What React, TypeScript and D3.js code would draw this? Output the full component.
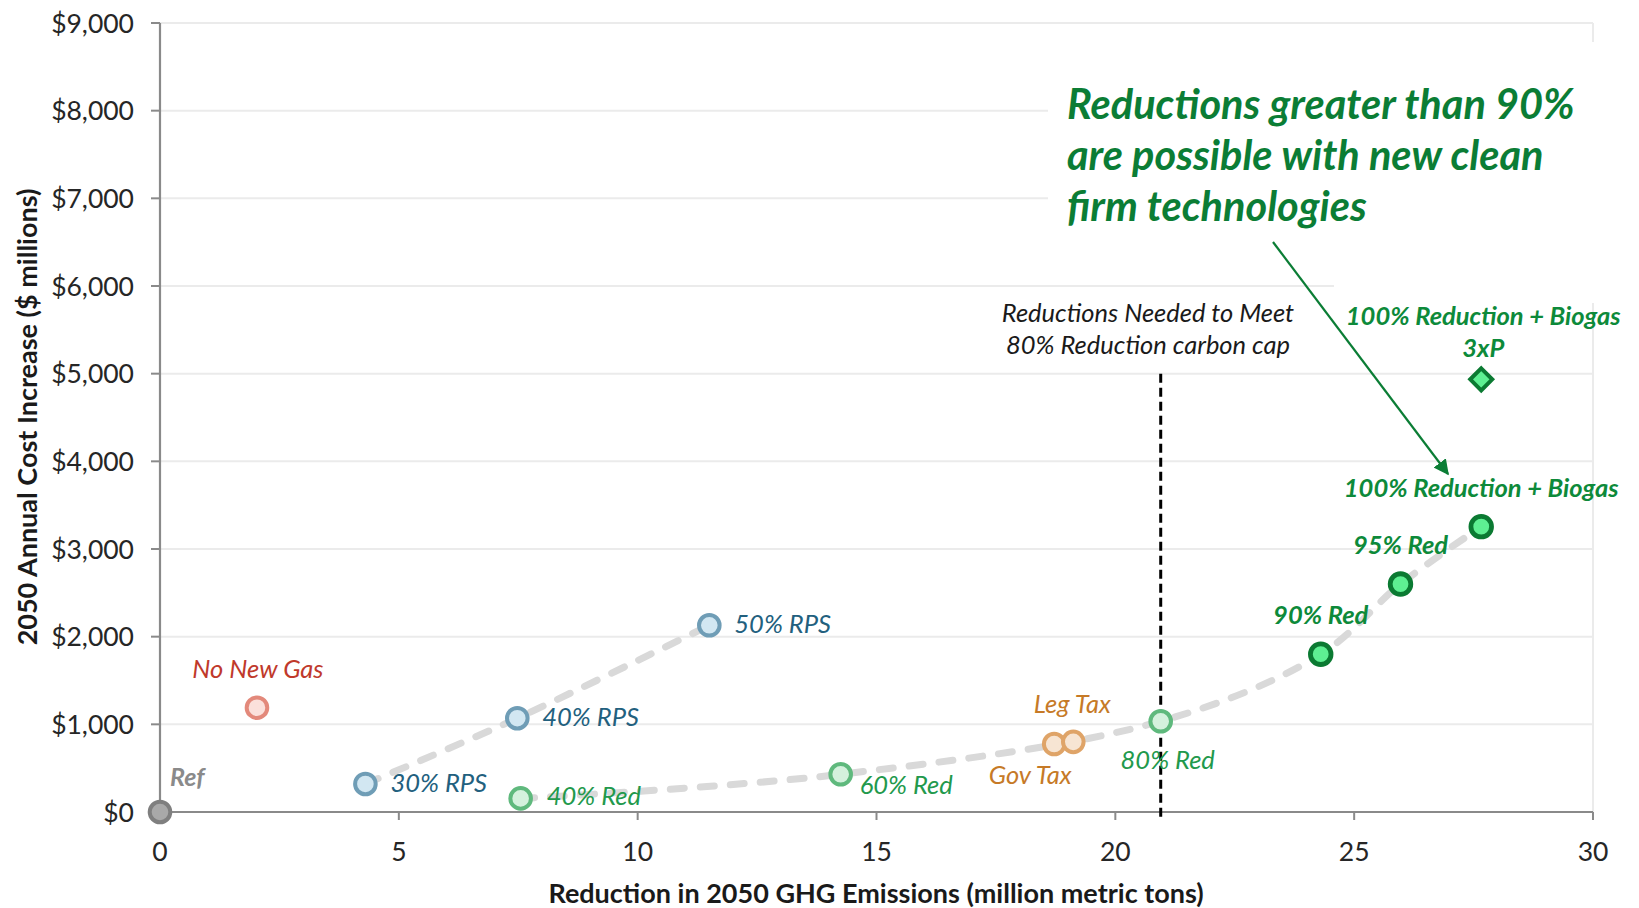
import React, { useEffect } from "react";
import * as d3 from "d3";

// Emission reduction (million metric tons) vs 2050 annual cost increase ($ millions)
const rpsLabels = ["30% RPS", "40% RPS", "50% RPS"];
const rpsReduction = [4.3, 7.48, 11.5];
const rpsCost = [320, 1070, 2130];

const redLabels = ["40% Red", "60% Red", "80% Red"];
const redReduction = [7.55, 14.25, 20.95];
const redCost = [155, 430, 1035];

const deepLabels = ["90% Red", "95% Red", "100% Reduction + Biogas"];
const deepReduction = [24.3, 25.97, 27.66];
const deepCost = [1800, 2600, 3255];

const taxLabels = ["Gov Tax", "Leg Tax"];
const taxReduction = [18.72, 19.12];
const taxCost = [775, 800];

const refReduction = 0;
const refCost = 0;
const noGasReduction = 2.03;
const noGasCost = 1190;
const biogas3xPReduction = 27.66;
const biogas3xPCost = 4935;

const capReduction = 20.95;
const capLineTop = 5000;

const xTicks = [0, 5, 10, 15, 20, 25, 30];
const yTicks = [0, 1000, 2000, 3000, 4000, 5000, 6000, 7000, 8000, 9000];

const FONT = "Lato, 'Open Sans', sans-serif";

const W = 1639;
const H = 908;

export default function App() {
  useEffect(() => {
    document.body.style.margin = "0";
  }, []);

  const x = d3.scaleLinear().domain([0, 30]).range([160, 1593]);
  const y = d3.scaleLinear().domain([0, 9000]).range([812, 23]);

  const curve = d3
    .line<[number, number]>()
    .x((d) => x(d[0]))
    .y((d) => y(d[1]))
    .curve(d3.curveCatmullRom.alpha(0.5));

  const rpsPts: [number, number][] = rpsReduction.map((v, i) => [v, rpsCost[i]]);
  const redPts: [number, number][] = [
    ...redReduction.map((v, i) => [v, redCost[i]] as [number, number]),
    ...deepReduction.map((v, i) => [v, deepCost[i]] as [number, number]),
  ];

  const fmt = (v: number) => "$" + d3.format(",")(v);

  const gridColor = "#ebebeb";
  const axisColor = "#8a8a8a";

  const rpsText = "#22607e";
  const lightGreenText = "#22994c";
  const darkGreenText = "#0d8a3a";
  const taxText = "#c67a27";

  const labelSize = 25.5;
  const deepSize = 25.5;

  const circle = (cx: number, cy: number, stroke: string, fill: string, sw = 4, r = 10.3, key?: string) => (
    <circle key={key} cx={cx} cy={cy} r={r} fill={fill} stroke={stroke} strokeWidth={sw} />
  );

  const dx = x(biogas3xPReduction);
  const dy = y(biogas3xPCost);
  const dr = 11;

  return (
    <svg width={W} height={H} style={{ display: "block", background: "#fff" }} fontFamily={FONT}>
      <defs>
        <marker id="arrowHead" viewBox="0 0 10 10" refX="9" refY="5" markerWidth="7" markerHeight="7" orient="auto" markerUnits="strokeWidth">
          <path d="M0,0 L10,5 L0,10 z" fill="#0b7d35" />
        </marker>
      </defs>

      {/* horizontal gridlines */}
      {yTicks.slice(1).map((t) => (
        <line key={"g" + t} x1={x(0)} x2={x(30)} y1={y(t)} y2={y(t)} stroke={gridColor} strokeWidth={2} />
      ))}
      {/* plot area right border */}
      <line x1={x(30)} x2={x(30)} y1={y(9000)} y2={y(0)} stroke={gridColor} strokeWidth={2} />

      {/* text box backgrounds */}
      <rect x={1048} y={42} width={600} height={215} fill="#fff" />
      <rect x={1334} y={256} width={310} height={47} fill="#fff" />

      {/* axes */}
      <line x1={x(0)} x2={x(0)} y1={y(9000)} y2={y(0)} stroke={axisColor} strokeWidth={2.2} />
      <line x1={x(0)} x2={x(30)} y1={y(0)} y2={y(0)} stroke={axisColor} strokeWidth={2.2} />
      {yTicks.map((t) => (
        <line key={"yt" + t} x1={x(0) - 9} x2={x(0)} y1={y(t)} y2={y(t)} stroke={axisColor} strokeWidth={2} />
      ))}
      {xTicks.map((t) => (
        <line key={"xt" + t} x1={x(t)} x2={x(t)} y1={y(0)} y2={y(0) + 8} stroke={axisColor} strokeWidth={2} />
      ))}
      {yTicks.map((t) => (
        <text key={"yl" + t} x={134} y={y(t)} dy="0.36em" textAnchor="end" fontSize={26.5} fill="#262626">
          {fmt(t)}
        </text>
      ))}
      {xTicks.map((t) => (
        <text key={"xl" + t} x={x(t)} y={861} textAnchor="middle" fontSize={26.5} fill="#262626">
          {t}
        </text>
      ))}

      {/* axis titles */}
      <text
        transform={`translate(37,${417}) rotate(-90)`}
        textAnchor="middle"
        fontSize={27}
        fontWeight={700}
        fill="#1a1a1a"
      >
        2050 Annual Cost Increase ($ millions)
      </text>
      <text x={876} y={903} textAnchor="middle" fontSize={27} fontWeight={700} fill="#1a1a1a">
        Reduction in 2050 GHG Emissions (million metric tons)
      </text>

      {/* trend connectors */}
      <path d={curve(rpsPts) || ""} fill="none" stroke="#d9d9d9" strokeWidth={7} strokeDasharray="14 16" strokeLinecap="round" />
      <path d={curve(redPts) || ""} fill="none" stroke="#d9d9d9" strokeWidth={7} strokeDasharray="14 16" strokeLinecap="round" />

      {/* 80% reduction cap marker line */}
      <line
        x1={x(capReduction)}
        x2={x(capReduction)}
        y1={y(capLineTop)}
        y2={y(0) + 8}
        stroke="#000"
        strokeWidth={3}
        strokeDasharray="9 5"
      />
      <text x={1148} y={322} textAnchor="middle" fontSize={labelSize} fontStyle="italic" fill="#1a1a1a">
        Reductions Needed to Meet
      </text>
      <text x={1148} y={354} textAnchor="middle" fontSize={labelSize} fontStyle="italic" fill="#1a1a1a">
        80% Reduction carbon cap
      </text>

      {/* reference and no new gas */}
      {circle(x(refReduction), y(refCost), "#7f7f7f", "#a9a9a9")}
      <text x={x(refReduction) + 10} y={y(refCost) - 26} fontSize={25} fontStyle="italic" fontWeight={700} fill="#8a8a8a">
        Ref
      </text>
      {circle(x(noGasReduction), y(noGasCost), "#e3897b", "#fbe0db")}
      <text x={x(noGasReduction) + 1} y={y(noGasCost) - 30} textAnchor="middle" fontSize={labelSize} fontStyle="italic" fill="#c0392b">
        No New Gas
      </text>

      {/* RPS scenarios */}
      {rpsPts.map((p, i) => (
        <g key={"rps" + i}>
          {circle(x(p[0]), y(p[1]), "#6f9db6", "#d2e7f2")}
          <text x={x(p[0]) + 25} y={y(p[1]) + 8} fontSize={labelSize} fontStyle="italic" fill={rpsText}>
            {rpsLabels[i]}
          </text>
        </g>
      ))}

      {/* carbon cap scenarios */}
      {redReduction.map((v, i) => {
        const cx = x(v);
        const cy = y(redCost[i]);
        const lx = i === 0 ? cx + 26 : i === 1 ? cx + 19 : cx + 7;
        const ly = i === 0 ? cy + 7 : i === 1 ? cy + 20 : cy + 48;
        const anchor = i === 2 ? "middle" : "start";
        return (
          <g key={"red" + i}>
            {circle(cx, cy, "#5fb97d", "#d4f1dd")}
            <text x={lx} y={ly} textAnchor={anchor} fontSize={labelSize} fontStyle="italic" fill={lightGreenText}>
              {redLabels[i]}
            </text>
          </g>
        );
      })}

      {/* tax scenarios */}
      {taxReduction.map((v, i) => circle(x(v), y(taxCost[i]), "#dfa468", "#f7e5d3", 4, 10.3, "tax" + i))}
      <text x={x(taxReduction[0]) - 24} y={y(taxCost[0]) + 40} textAnchor="middle" fontSize={labelSize} fontStyle="italic" fill={taxText}>
        {taxLabels[0]}
      </text>
      <text x={x(taxReduction[1]) - 1} y={y(taxCost[1]) - 29} textAnchor="middle" fontSize={labelSize} fontStyle="italic" fill={taxText}>
        {taxLabels[1]}
      </text>

      {/* deep reduction scenarios */}
      {deepReduction.map((v, i) => (
        <g key={"deep" + i}>
          {circle(x(v), y(deepCost[i]), "#0b7a32", "#5ef092", 4.8, 10.3)}
          <text x={x(v)} y={y(deepCost[i]) - 30} textAnchor="middle" fontSize={deepSize} fontStyle="italic" fontWeight={700} fill={darkGreenText}>
            {deepLabels[i]}
          </text>
        </g>
      ))}

      {/* 3xP variant */}
      <path
        d={`M${dx},${dy - dr} L${dx + dr},${dy} L${dx},${dy + dr} L${dx - dr},${dy} Z`}
        fill="#5ef092"
        stroke="#0b7a32"
        strokeWidth={4}
        strokeLinejoin="miter"
      />
      <text x={dx + 2} y={325} textAnchor="middle" fontSize={deepSize} fontStyle="italic" fontWeight={700} fill={darkGreenText}>
        100% Reduction + Biogas
      </text>
      <text x={dx + 2} y={357} textAnchor="middle" fontSize={deepSize} fontStyle="italic" fontWeight={700} fill={darkGreenText}>
        3xP
      </text>

      {/* headline annotation */}
      <g fontSize={41.5} fontStyle="italic" fontWeight={700} fill="#0b7d35">
        <text x={1067} y={119}>Reductions greater than 90%</text>
        <text x={1067} y={170}>are possible with new clean</text>
        <text x={1067} y={221}>firm technologies</text>
      </g>
      <line x1={1273} y1={242} x2={1448} y2={474} stroke="#0b7d35" strokeWidth={2.2} markerEnd="url(#arrowHead)" />
    </svg>
  );
}
